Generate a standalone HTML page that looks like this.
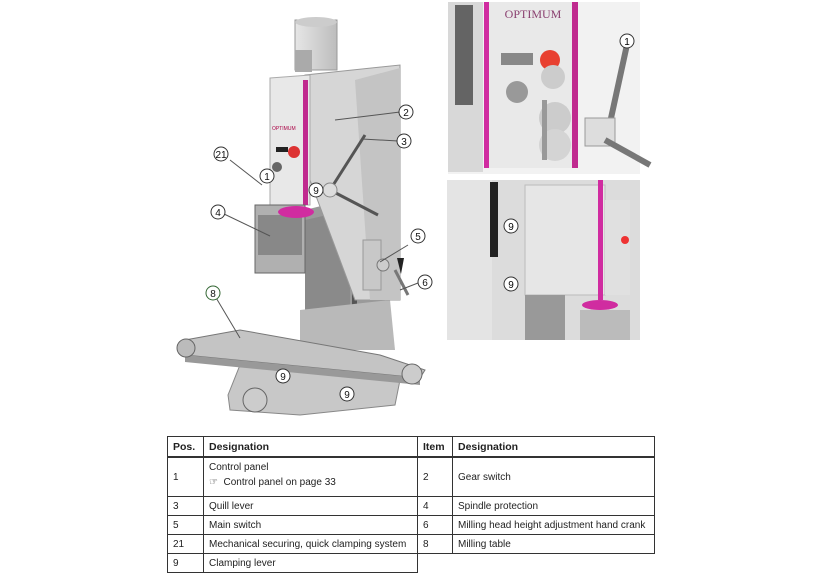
<!DOCTYPE html>
<html><head><style>
body{margin:0;background:#fff;width:820px;height:580px;overflow:hidden;position:relative;font-family:"Liberation Sans",sans-serif}
table{position:absolute;left:167px;top:436px;border-collapse:collapse;font-size:10px;color:#222}
td{border:1px solid #333;padding:0 5px;height:18px;vertical-align:middle}
th{border:1px solid #333;border-bottom:2px solid #333;padding:0 5px;height:19px;text-align:left;font-size:10.5px}
</style></head><body>
<svg width="820" height="430" style="position:absolute;left:0;top:0" font-family="Liberation Sans,sans-serif">
<defs>
<linearGradient id="g1" x1="0" x2="1"><stop offset="0" stop-color="#e6e6e6"/><stop offset="1" stop-color="#bdbdbd"/></linearGradient>
</defs>
<!-- base -->
<polygon points="228,395 240,365 380,360 400,380 395,405 300,415 230,410" fill="#c8c8c8" stroke="#888"/>
<!-- column -->
<polygon points="305,210 385,190 385,340 305,340" fill="#9a9a9a"/>
<polygon points="305,220 350,210 350,340 305,340" fill="#8a8a8a"/>
<rect x="352" y="220" width="5" height="120" fill="#555"/>
<polygon points="300,310 390,300 395,350 300,350" fill="#b9b9b9"/>
<!-- head right body -->
<polygon points="305,75 400,65 400,300 355,300 310,180" fill="#d6d6d6" stroke="#999"/>
<polygon points="355,80 400,68 400,300 370,300" fill="#c4c4c4"/>
<!-- head front -->
<polygon points="270,78 310,75 310,205 270,205" fill="#e8e8e8" stroke="#aaa"/>
<rect x="303" y="80" width="5" height="125" fill="#c02a8f"/>
<text x="272" y="130" font-size="5" fill="#a04">OPTIMUM</text>
<rect x="276" y="147" width="12" height="5" fill="#222"/>
<circle cx="294" cy="152" r="6" fill="#d33"/>
<circle cx="277" cy="167" r="5" fill="#666"/>
<!-- motor -->
<rect x="295" y="20" width="42" height="50" fill="url(#g1)" stroke="#999"/>
<ellipse cx="316" cy="22" rx="21" ry="5" fill="#ccc"/>
<rect x="295" y="50" width="17" height="22" fill="#aaa"/>
<!-- spindle protection -->
<rect x="255" y="205" width="50" height="68" fill="#b0b0b0" stroke="#666"/>
<rect x="258" y="215" width="44" height="40" fill="#888"/>
<ellipse cx="296" cy="212" rx="18" ry="6" fill="#d02ca0"/>
<!-- quill lever -->
<line x1="330" y1="190" x2="365" y2="135" stroke="#555" stroke-width="3"/>
<line x1="330" y1="190" x2="378" y2="215" stroke="#555" stroke-width="3"/>
<circle cx="330" cy="190" r="7" fill="#ddd" stroke="#888"/>
<!-- side crank -->
<rect x="363" y="240" width="18" height="50" fill="#c8c8c8" stroke="#999"/>
<circle cx="383" cy="265" r="6" fill="#ccc" stroke="#777"/>
<polygon points="397,258 404,258 401,274" fill="#222"/>
<line x1="395" y1="270" x2="408" y2="295" stroke="#777" stroke-width="3"/>
<!-- table -->
<polygon points="185,340 240,330 380,355 425,370 420,378 185,355" fill="#c4c4c4" stroke="#777"/>
<polygon points="185,355 420,378 420,385 185,362" fill="#999"/>
<circle cx="186" cy="348" r="9" fill="#bbb" stroke="#666"/>
<circle cx="412" cy="374" r="10" fill="#ccc" stroke="#666"/>
<circle cx="255" cy="400" r="12" fill="#ccc" stroke="#666"/>
<g stroke="#555" stroke-width="1">
<line x1="408" y1="245" x2="380" y2="262"/>
<line x1="418" y1="283" x2="400" y2="290"/>
<line x1="400" y1="112" x2="335" y2="120"/>
<line x1="398" y1="141" x2="362" y2="139"/>
<line x1="230" y1="160" x2="262" y2="185"/>
<line x1="222" y1="213" x2="270" y2="236"/>
<line x1="215" y1="296" x2="240" y2="338"/>
</g>
<g fill="#fff" stroke="#333" stroke-width="1" font-size="10" text-anchor="middle">
<circle cx="406" cy="112" r="7"/><text x="406" y="116" stroke="none" fill="#111">2</text>
<circle cx="404" cy="141" r="7"/><text x="404" y="145" stroke="none" fill="#111">3</text>
<circle cx="221" cy="154" r="7"/><text x="221" y="158" stroke="none" fill="#111">21</text>
<circle cx="267" cy="176" r="7"/><text x="267" y="180" stroke="none" fill="#111">1</text>
<circle cx="316" cy="190" r="7"/><text x="316" y="194" stroke="none" fill="#111">9</text>
<circle cx="218" cy="212" r="7"/><text x="218" y="216" stroke="none" fill="#111">4</text>
<circle cx="418" cy="236" r="7"/><text x="418" y="240" stroke="none" fill="#111">5</text>
<circle cx="425" cy="282" r="7"/><text x="425" y="286" stroke="none" fill="#111">6</text>
<circle cx="213" cy="293" r="7" stroke="#363"/><text x="213" y="297" stroke="none" fill="#111">8</text>
<circle cx="283" cy="376" r="7"/><text x="283" y="380" stroke="none" fill="#111">9</text>
<circle cx="347" cy="394" r="7"/><text x="347" y="398" stroke="none" fill="#111">9</text>
</g>
<!-- top right photo -->
<rect x="448" y="2" width="192" height="172" fill="#f2f2f2"/>
<rect x="448" y="2" width="35" height="170" fill="#d8d8d8"/>
<rect x="455" y="5" width="18" height="100" fill="#333" opacity="0.7"/>
<rect x="484" y="2" width="5" height="166" fill="#d02ca0"/>
<rect x="489" y="2" width="85" height="166" fill="#e9e9e9"/>
<rect x="572" y="2" width="6" height="166" fill="#c02a8f"/>
<text x="533" y="18" font-size="12" font-family="Liberation Serif" fill="#8a4070" text-anchor="middle">OPTIMUM</text>
<rect x="501" y="53" width="32" height="12" fill="#888"/>
<circle cx="550" cy="60" r="10" fill="#e84030"/>
<circle cx="553" cy="77" r="12" fill="#ccc"/>
<circle cx="517" cy="92" r="11" fill="#999"/>
<circle cx="555" cy="118" r="16" fill="#ccc"/>
<circle cx="555" cy="145" r="16" fill="#d4d4d4"/>
<rect x="542" y="100" width="5" height="60" fill="#999"/>
<line x1="608" y1="132" x2="628" y2="40" stroke="#777" stroke-width="6"/>
<rect x="585" y="118" width="30" height="28" fill="#ddd" stroke="#999"/>
<line x1="605" y1="140" x2="650" y2="165" stroke="#777" stroke-width="6"/>
<circle cx="627" cy="41" r="7" fill="#fff" stroke="#333"/><text x="627" y="45" font-size="10" text-anchor="middle">1</text>
<!-- bottom right photo -->
<rect x="447" y="180" width="193" height="160" fill="#dcdcdc"/>
<rect x="447" y="180" width="45" height="160" fill="#e4e4e4"/>
<rect x="490" y="182" width="8" height="75" fill="#222"/>
<rect x="525" y="185" width="80" height="110" fill="#e6e6e6" stroke="#bbb"/>
<rect x="598" y="180" width="5" height="120" fill="#d02ca0"/>
<rect x="605" y="200" width="25" height="95" fill="#e0e0e0"/>
<circle cx="625" cy="240" r="4" fill="#e33"/>
<rect x="525" y="295" width="40" height="45" fill="#999"/>
<ellipse cx="600" cy="305" rx="18" ry="5" fill="#d02ca0"/>
<rect x="580" y="310" width="50" height="30" fill="#bbb"/>
<circle cx="511" cy="226" r="7" fill="#fff" stroke="#333"/><text x="511" y="230" font-size="10" text-anchor="middle">9</text>
<circle cx="511" cy="284" r="7" fill="#fff" stroke="#333"/><text x="511" y="288" font-size="10" text-anchor="middle">9</text>
</svg>
<table>
<tr><th style="width:25px">Pos.</th><th style="width:203px">Designation</th><th style="width:24px">Item</th><th style="width:191px">Designation</th></tr>
<tr><td style="height:38px">1</td><td>Control panel<br><span style="line-height:20px">&#9758;&nbsp; Control panel on page 33</span></td><td>2</td><td>Gear switch</td></tr>
<tr><td>3</td><td>Quill lever</td><td>4</td><td>Spindle protection</td></tr>
<tr><td>5</td><td>Main switch</td><td>6</td><td>Milling head height adjustment hand crank</td></tr>
<tr><td>21</td><td>Mechanical securing, quick clamping system</td><td>8</td><td>Milling table</td></tr>
<tr><td>9</td><td>Clamping lever</td><td style="border:none"></td><td style="border:none"></td></tr>
</table>
</body></html>
